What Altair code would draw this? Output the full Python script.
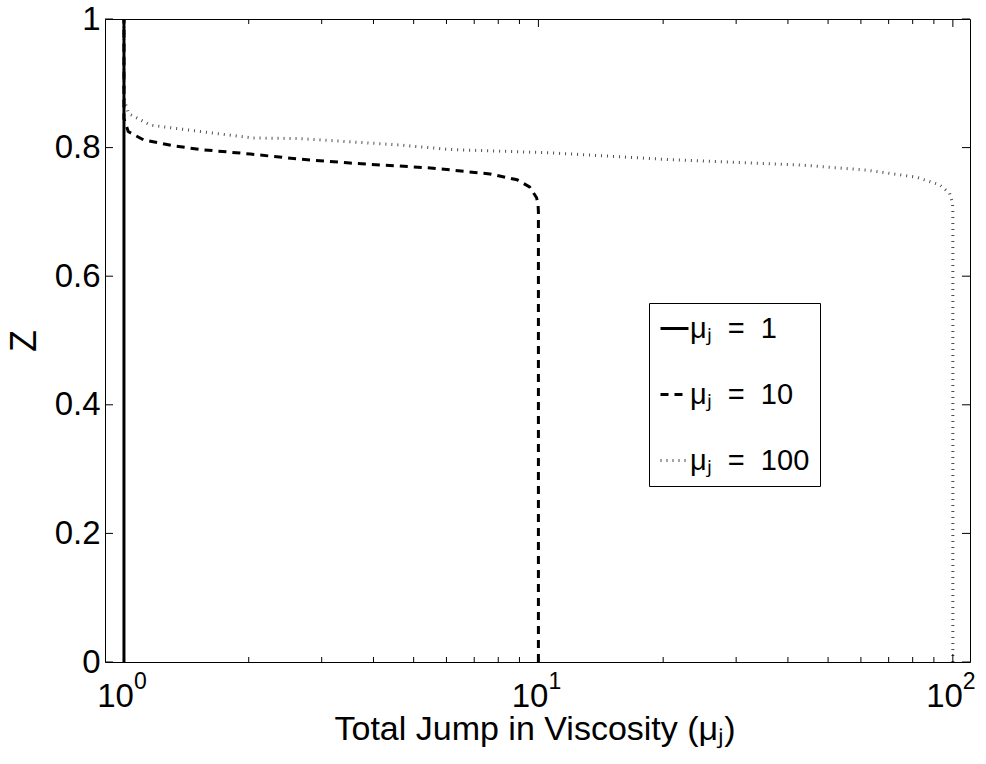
import altair as alt
import pandas as pd

FONT = "Liberation Sans"
W, H = 865, 643

# ---- data ----
series_names = ["1", "10", "100"]

solid_x = [1.0, 1.0]
solid_z = [0.0, 1.0]

dash_x = [10.0, 10.0, 9.98, 9.9, 9.52, 8.88, 7.64, 5.57, 3.51, 2.66, 2.02, 1.53, 1.31, 1.115, 1.024, 1.0, 1.0]
dash_z = [0.0, 0.70, 0.712, 0.722, 0.739, 0.750, 0.759, 0.768, 0.776, 0.782, 0.790, 0.797, 0.803, 0.812, 0.825, 0.845, 1.0]

dot_x = [100.0, 100.0, 99.8, 98.2, 93.0, 81.7, 61.9, 42.8, 21.1, 10.6, 6.12, 4.64, 2.66, 2.05, 1.53, 1.157, 1.026, 1.0075, 1.0, 1.0]
dot_z = [0.0, 0.70, 0.714, 0.729, 0.742, 0.754, 0.765, 0.773, 0.781, 0.792, 0.797, 0.804, 0.814, 0.815, 0.825, 0.835, 0.853, 0.869, 0.88, 1.0]

y_ticks = [0, 0.2, 0.4, 0.6, 0.8, 1.0]
x_major = [1, 10, 100]
x_major_exp = ["0", "1", "2"]
x_minor = [2, 3, 4, 5, 6, 7, 8, 9, 20, 30, 40, 50, 60, 70, 80, 90]

rows = []
for name, xs, zs in [("100", dot_x, dot_z), ("10", dash_x, dash_z), ("1", solid_x, solid_z)]:
    for i, (a, b) in enumerate(zip(xs, zs)):
        rows.append({"series": name, "idx": i, "x": a, "z": b})
df = pd.DataFrame(rows)

xscale = alt.Scale(type="log", domain=[0.9, 110], nice=False)
yscale = alt.Scale(domain=[0, 1], nice=False, zero=False)

xaxis = alt.Axis(labels=False, ticks=False, domain=False, grid=False,
                 title="Total Jump in Viscosity (μⱼ)",
                 titleFont=FONT, titleFontSize=34, titleFontWeight="normal",
                 titleColor="black", titleX=W / 2 - 3, titleY=77,
                 titleBaseline="alphabetic", titleAlign="center")
yaxis = alt.Axis(values=y_ticks, format="~g", ticks=False, domain=False, grid=False,
                 labelFont=FONT, labelFontSize=33, labelColor="black",
                 labelPadding=5, labelFlush=False, labelOverlap=False,
                 title="Z", titleFont=FONT, titleFontSize=36, titleFontWeight="normal",
                 titleColor="black", titleAngle=270, titleX=-70, titleY=H / 2,
                 titleBaseline="alphabetic", titleAlign="center")

leg = alt.Legend(
    title=None,
    orient="none",
    legendX=544,
    legendY=284,
    labelExpr="'μⱼ\u00a0\u00a0=\u00a0\u00a0' + datum.label",
    labelFont=FONT,
    labelFontSize=29,
    labelColor="black",
    labelOffset=0,
    labelLimit=0,
    symbolType="stroke",
    symbolSize=784,
    symbolStrokeWidth=3,
    padding=10,
    rowPadding=35,
    strokeColor="black",
    fillColor="white",
    cornerRadius=0,
)

lines = alt.Chart(df).mark_line(strokeWidth=3, strokeCap="butt").encode(
    x=alt.X("x:Q", scale=xscale, axis=xaxis),
    y=alt.Y("z:Q", scale=yscale, axis=yaxis),
    color=alt.Color("series:N", scale=alt.Scale(domain=series_names, range=["black", "black", "#4d4d4d"]),
                    legend=leg),
    strokeDash=alt.StrokeDash("series:N",
                              scale=alt.Scale(domain=series_names, range=[[1, 0], [8, 6], [1, 5]]),
                              legend=leg),
    order=alt.Order("idx:Q"),
)

ydf = pd.DataFrame({"v": y_ticks})
ytick_l = alt.Chart(ydf).mark_rule(color="black", strokeWidth=1).encode(
    y=alt.Y("v:Q", scale=yscale, axis=yaxis), x=alt.value(0), x2=alt.value(8))
ytick_r = alt.Chart(ydf).mark_rule(color="black", strokeWidth=1).encode(
    y=alt.Y("v:Q", scale=yscale, axis=yaxis), x=alt.value(W - 8), x2=alt.value(W))

mdf = pd.DataFrame({"v": x_major, "base": ["10"] * 3, "exp": x_major_exp})
ndf = pd.DataFrame({"v": x_minor})

xmaj_b = alt.Chart(mdf).mark_rule(color="black", strokeWidth=1).encode(
    x=alt.X("v:Q", scale=xscale, axis=xaxis), y=alt.value(H - 8), y2=alt.value(H))
xmaj_t = alt.Chart(mdf).mark_rule(color="black", strokeWidth=1).encode(
    x=alt.X("v:Q", scale=xscale, axis=xaxis), y=alt.value(0), y2=alt.value(8))
xmin_b = alt.Chart(ndf).mark_rule(color="black", strokeWidth=1).encode(
    x=alt.X("v:Q", scale=xscale, axis=xaxis), y=alt.value(H - 5), y2=alt.value(H))
xmin_t = alt.Chart(ndf).mark_rule(color="black", strokeWidth=1).encode(
    x=alt.X("v:Q", scale=xscale, axis=xaxis), y=alt.value(0), y2=alt.value(5))

lab_base = alt.Chart(mdf).mark_text(align="right", baseline="alphabetic", dx=10,
                                    font=FONT, fontSize=33, color="black").encode(
    x=alt.X("v:Q", scale=xscale, axis=xaxis), y=alt.value(H + 45), text="base:N")
lab_exp = alt.Chart(mdf).mark_text(align="left", baseline="alphabetic", dx=10,
                                   font=FONT, fontSize=23, color="black").encode(
    x=alt.X("v:Q", scale=xscale, axis=xaxis), y=alt.value(H + 27), text="exp:N")

chart = alt.layer(
    lines, ytick_l, ytick_r, xmaj_b, xmaj_t, xmin_b, xmin_t, lab_base, lab_exp
).properties(
    width=W, height=H,
    autosize=alt.AutoSizeParams(type="none"),
    padding={"left": 105, "top": 19, "right": 16, "bottom": 102},
    background="white",
).configure_view(
    stroke="black", strokeWidth=1
)

chart.save("out.html", embed_options={"renderer": "svg", "actions": False})
